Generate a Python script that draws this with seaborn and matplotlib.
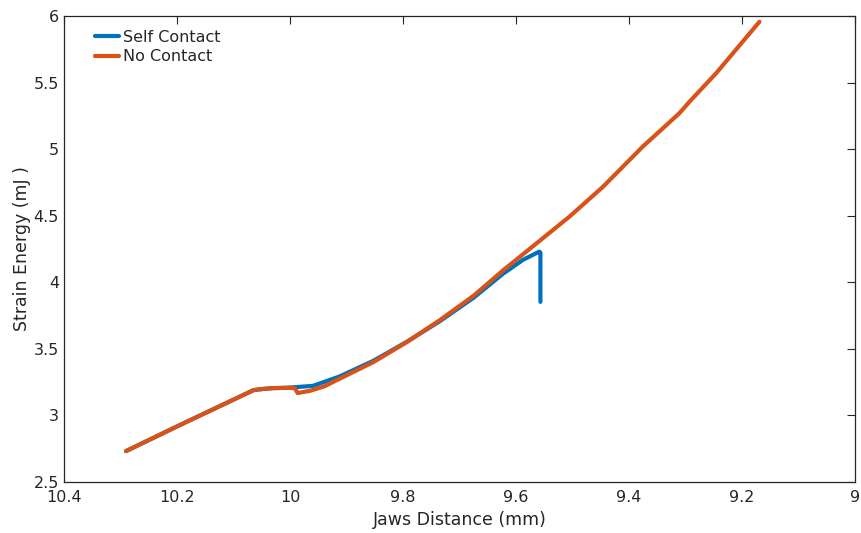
import matplotlib
matplotlib.use("Agg")
import matplotlib.pyplot as plt
from matplotlib.lines import Line2D
import seaborn as sns
import pandas as pd

# Jaw distance (mm) and strain energy (mJ) for the two simulations
self_contact_x = [10.291, 10.196, 10.065, 10.050, 10.031, 10.010, 9.992, 9.960, 9.913,
                  9.853, 9.794, 9.735, 9.675, 9.623, 9.588, 9.562, 9.559, 9.557,
                  9.557]
self_contact_y = [2.732, 2.927, 3.190, 3.198, 3.205, 3.207, 3.212, 3.222, 3.292,
                  3.410, 3.552, 3.708, 3.885, 4.065, 4.168, 4.224, 4.230, 4.222,
                  3.853]

no_contact_x = [10.291, 10.196, 10.065, 10.050, 10.031, 10.010, 9.992, 9.987, 9.965,
                9.940, 9.913, 9.853, 9.794, 9.735, 9.675, 9.623, 9.564, 9.505,
                9.446, 9.376, 9.311, 9.293, 9.246, 9.169]
no_contact_y = [2.732, 2.927, 3.190, 3.198, 3.205, 3.207, 3.205, 3.168, 3.185,
                3.218, 3.275, 3.400, 3.550, 3.716, 3.900, 4.090, 4.292, 4.495,
                4.718, 5.018, 5.269, 5.356, 5.569, 5.957]

series_names = ["Self Contact", "No Contact"]
series_colors = ["#0072BD", "#D95319"]

x_ticks = [10.4, 10.2, 10.0, 9.8, 9.6, 9.4, 9.2, 9.0]
x_tick_labels = ["10.4", "10.2", "10", "9.8", "9.6", "9.4", "9.2", "9"]
y_ticks = [2.5, 3, 3.5, 4, 4.5, 5, 5.5, 6]
y_tick_labels = ["2.5", "3", "3.5", "4", "4.5", "5", "5.5", "6"]

sns.set_style("white")
plt.rcParams["font.family"] = ["DejaVu Sans"]

df = pd.concat([
    pd.DataFrame({"x": self_contact_x, "y": self_contact_y, "series": series_names[0]}),
    pd.DataFrame({"x": no_contact_x, "y": no_contact_y, "series": series_names[1]}),
], ignore_index=True)

fig = plt.figure(figsize=(8.61, 5.33), dpi=100)
ax = fig.add_axes([0.0749, 0.0957, 0.918, 0.8743])

sns.lineplot(data=df, x="x", y="y", hue="series", hue_order=series_names,
             palette=series_colors, sort=False, estimator=None,
             linewidth=3.0, ax=ax, legend=False)
for line in ax.get_lines():
    line.set_solid_joinstyle("round")

ax.set_xlim(10.4, 9.0)
ax.set_ylim(2.5, 6.0)
ax.set_xticks(x_ticks)
ax.set_xticklabels(x_tick_labels)
ax.set_yticks(y_ticks)
ax.set_yticklabels(y_tick_labels)

text_color = "#262626"
ax.tick_params(direction="in", length=6, width=0.8, colors=text_color,
               labelsize=11.5, top=True, right=True)
ax.tick_params(axis="x", pad=6)
ax.tick_params(axis="y", pad=4)
for side in ["left", "right", "top", "bottom"]:
    ax.spines[side].set_visible(True)
    ax.spines[side].set_color(text_color)
    ax.spines[side].set_linewidth(0.9)

ax.set_xlabel("Jaws Distance (mm)", fontsize=12.5, color=text_color, labelpad=4)
ax.set_ylabel("Strain Energy (mJ )", fontsize=12.5, color=text_color, labelpad=2)

handles = [Line2D([0], [0], color=c, lw=3.0) for c in series_colors]
ax.legend(handles, series_names, loc="upper left", bbox_to_anchor=(0.025, 0.995),
          frameon=False, fontsize=11.5, handlelength=1.5, handletextpad=0.2,
          labelspacing=0.3, borderaxespad=0.3)

fig.savefig("out.png", dpi=100)
